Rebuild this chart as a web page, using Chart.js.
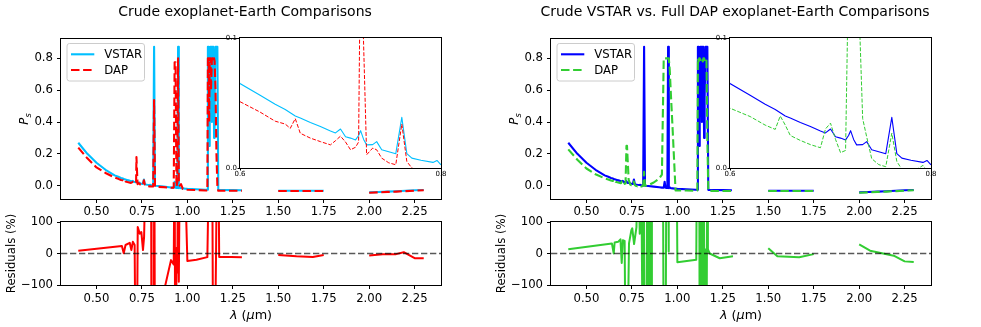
<!DOCTYPE html>
<html><head><meta charset="utf-8">
<script src="https://cdn.jsdelivr.net/npm/chart.js@4.4.1/dist/chart.umd.min.js"></script>
<style>
html,body{margin:0;padding:0;background:#fff;}
#wrap{position:relative;width:981px;height:327px;overflow:hidden;background:#fff;}
canvas{position:absolute;}
</style></head><body><div id="wrap"></div>
<script>
// ---------------- data ----------------
const wl = [
 0.40,0.45,0.50,0.55,0.60,0.62,0.635,0.645,0.650,0.655,
 0.660,0.670,0.680,0.690,0.695,0.700,0.705,0.710,0.715,0.718,
 0.720,0.723,0.726,0.732,0.736,0.741,0.748,0.755,0.761,0.766,
 0.771,0.780,0.792,0.796,0.800,0.805,0.812,0.817,0.822,0.840,
 0.870,0.900,0.915,0.925,0.930,0.935,0.940,0.945,0.949,0.953,
 0.958,0.965,0.975,0.990,1.000,1.050,1.100,1.110,1.113,1.117,
 1.120,1.123,1.127,1.130,1.135,1.140,1.143,1.147,1.150,1.155,
 1.160,1.165,1.170,1.200,1.250,1.300,1.400,1.50,1.55,1.60,
 1.65,1.70,1.75,1.90,2.00,2.05,2.10,2.15,2.20,2.25,
 2.30];
const vstar = [
 0.270,0.200,0.144,0.100,0.065,0.056,0.049,0.045,0.0425,0.040,
 0.0385,0.035,0.032,0.0285,0.027,0.030,0.024,0.023,0.0216,0.025,
 0.0287,0.022,0.0178,0.018,0.0203,0.014,0.0125,0.011,0.039,0.011,
 0.0076,0.006,0.0043,0.0058,0.0025,0.002,0.001,0.873,0.000,-0.002,
 -0.006,-0.010,-0.012,-0.012,0.025,-0.013,-0.014,-0.014,0.873,-0.015,
 -0.010,-0.016,-0.017,-0.019,-0.020,-0.022,-0.025,-0.025,0.873,0.873,
 0.25,0.60,0.873,0.873,0.40,0.873,0.873,0.30,0.55,0.873,
 0.873,0.873,-0.026,-0.027,-0.028,-0.029,null,-0.032,-0.032,-0.032,
 -0.032,-0.032,-0.032,null,-0.042,-0.040,-0.037,-0.035,-0.032,-0.029,
 -0.027];
const dapCrude = [
 0.239,0.172,0.115,0.080,0.051,0.043,0.036,0.0338,0.0305,0.038,
 0.0267,0.023,0.0203,0.0178,0.021,0.0245,0.020,0.014,0.016,0.020,
 0.180,0.095,0.0102,0.0153,0.014,0.0076,0.004,0.0025,0.0338,0.005,
 0.000,-0.003,-0.004,-0.004,-0.005,-0.005,-0.005,0.538,-0.005,-0.007,
 -0.009,-0.012,-0.013,-0.012,0.775,0.775,-0.005,0.020,0.800,0.020,
 0.000,0.010,-0.020,-0.024,-0.025,-0.027,-0.030,-0.030,0.800,0.800,
 0.40,0.800,0.800,0.60,0.800,0.800,0.780,0.800,0.780,0.600,
 0.200,0.000,-0.032,-0.032,-0.032,-0.032,null,-0.033,-0.033,-0.033,
 -0.033,-0.033,-0.033,null,-0.044,-0.042,-0.039,-0.037,-0.034,-0.031,
 -0.029];
const dapFull = [
 0.228,0.163,0.108,0.072,0.046,0.0396,0.033,0.0297,0.040,0.033,
 0.025,0.0212,0.018,0.0156,0.030,0.0345,0.022,0.0118,0.0135,0.155,
 0.250,0.250,0.179,0.038,0.024,0.0072,0.0026,0.001,0.0268,0.005,
 -0.001,-0.004,0.002,-0.002,-0.004,-0.004,0.000,0.088,0.000,0.003,
 0.020,0.045,0.070,0.800,0.800,0.800,0.800,0.800,0.800,0.800,
 0.730,0.560,0.330,-0.030,-0.030,-0.030,-0.032,-0.030,0.800,0.780,
 0.800,0.800,0.790,0.800,0.800,0.780,0.800,0.800,0.790,0.800,
 0.800,0.300,-0.032,-0.033,-0.033,-0.033,null,-0.033,-0.033,-0.033,
 -0.033,-0.033,-0.033,null,-0.044,-0.042,-0.039,-0.037,-0.034,-0.031,
 -0.029];
const resWlCrude = [0.40,0.64,0.65,0.66,0.683,0.692,0.70,0.71,0.716,0.722,
 0.727,0.738,0.747,0.756,0.762,0.775,0.80,0.803,0.815,0.818,
 0.822,0.87,0.875,0.91,0.925,0.93,0.933,0.942,0.945,0.949,
 0.953,0.96,0.98,1.00,1.05,1.11,1.122,1.136,1.142,1.15,
 1.158,1.164,1.17,1.175,1.24,1.30,1.40,1.50,1.60,1.69,
 1.75,1.90,2.00,2.075,2.148,2.19,2.25,2.30];
const resCrude = [9,24,1,27,34,11,37,27,-400,-400,
 84,63,68,11,53,400,400,-400,-400,400,
 -400,-400,-110,-21,-35,400,-400,18,-60,400,
 -90,400,400,-24,-20,-11.5,400,400,-400,-400,
 12,400,400,-11,-11,-12,null,-5,-9,-11,
 -5,null,-6,-2,-2,4,-15,-15];
const resWlFull = [0.40,0.64,0.65,0.655,0.674,0.687,0.694,0.70,0.71,0.716,
 0.724,0.734,0.747,0.752,0.762,0.775,0.784,0.793,0.80,0.81,
 0.815,0.82,0.83,0.835,0.84,0.848,0.855,0.86,0.92,0.925,
 0.935,0.94,0.951,0.952,0.953,0.995,1.00,1.104,1.108,1.12,
 1.123,1.128,1.132,1.136,1.14,1.145,1.15,1.155,1.16,1.165,
 1.168,1.178,1.233,1.306,1.40,1.50,1.55,1.67,1.75,1.90,
 2.00,2.06,2.19,2.25,2.30];
const resFull = [13.5,32,0,35,37,45,-30,42,40,-400,
 -400,32,74,80,30,84,400,63,400,-400,
 400,-400,-400,400,-400,400,-400,400,400,-400,
 -400,400,400,6,400,400,-28,-20,400,400,
 -400,400,-400,400,-400,400,-400,13,-400,400,
 13,0,-15,-9,null,17,-9,-12,-2,null,
 29,9,-7,-25,-27];
const xTicks = [0.50,0.75,1.00,1.25,1.50,1.75,2.00,2.25];
const yTicksMain = [0.0,0.2,0.4,0.6,0.8];
const yTicksRes = [-100,0,100];
const insetXTicks = [0.6,0.8];
const insetYTicks = [0.0,0.1];
const titles = ['Crude exoplanet-Earth Comparisons','Crude VSTAR vs. Full DAP exoplanet-Earth Comparisons'];
const seriesNames = ['VSTAR','DAP'];

// ---------------- helpers ----------------
const FONT = 'DejaVu Sans';
Chart.defaults.font.family = FONT;
Chart.defaults.color = '#000';
const XMIN = 0.305, XMAX = 2.395;
const wrap = document.getElementById('wrap');
function addCanvas(l,t,w,h){const c=document.createElement('canvas');c.width=w;c.height=h;
  c.style.left=l+'px';c.style.top=t+'px';c.style.width=w+'px';c.style.height=h+'px';wrap.appendChild(c);return c;}
function pts(xs,ys){return xs.map((x,i)=>({x:x,y:ys[i]}));}
function fmt(v,d){const s=Math.abs(v).toFixed(d);return v<0?'\u2212'+s:s;}
function fixedTicks(arr){return function(scale){scale.ticks=arr.map(v=>({value:v}));};}
function gridStyle(len){return {display:true,drawOnChartArea:false,drawTicks:true,tickLength:len,color:'#000',tickColor:'#000',lineWidth:1,tickWidth:1};}
const tickFont = {family:FONT,size:11.7};
const baseOpts = {responsive:false,animation:false,devicePixelRatio:1,events:[],
  elements:{point:{radius:0},line:{tension:0,fill:false,borderJoinStyle:'round',borderCapStyle:'butt'}}};

function framePlugin(fill){return {id:'frame',
  beforeDraw(chart){ if(!fill) return; const a=chart.chartArea,c=chart.ctx; c.save(); c.fillStyle=fill;
    c.fillRect(a.left,a.top,a.right-a.left,a.bottom-a.top); c.restore(); },
  afterDraw(chart){ const a=chart.chartArea,c=chart.ctx; c.save(); c.strokeStyle='#000'; c.lineWidth=1; c.setLineDash([]);
    c.strokeRect(a.left-0.5,a.top-0.5,a.right-a.left+1,a.bottom-a.top+1); c.restore(); }};}

function drawRich(ctx,parts,cx,cy,rot){
  ctx.save(); ctx.translate(cx,cy); if(rot) ctx.rotate(rot);
  let w=0; parts.forEach(p=>{ctx.font=p.font; p.w=ctx.measureText(p.t).width; w+=p.w;});
  let x=-w/2; ctx.textBaseline='alphabetic'; ctx.textAlign='left'; ctx.fillStyle='#000';
  parts.forEach(p=>{ctx.font=p.font; ctx.fillText(p.t,x,p.dy||0); x+=p.w;});
  ctx.restore();
}
function yLabelPlugin(){return {id:'ylab', afterDraw(chart){
  const a=chart.chartArea;
  drawRich(chart.ctx,[{t:'P',font:'italic 11.7px "DejaVu Sans"'},{t:'s',font:'italic 8.2px "DejaVu Sans"',dy:2.6}],
    28,(a.top+a.bottom)/2,-Math.PI/2);
}};}
function xLabelPlugin(){return {id:'xlab', afterDraw(chart){
  const a=chart.chartArea;
  drawRich(chart.ctx,[{t:'\u03bb',font:'italic 12.8px "DejaVu Sans"'},{t:' (',font:'12.8px "DejaVu Sans"'},
    {t:'\u03bc',font:'italic 12.8px "DejaVu Sans"'},{t:'m)',font:'12.8px "DejaVu Sans"'}],(a.left+a.right)/2,119,0);
}};}
function zeroLinePlugin(){return {id:'zero', afterDatasetsDraw(chart){
  const a=chart.chartArea,c=chart.ctx,y=chart.scales.y.getPixelForValue(0);
  c.save(); c.strokeStyle='rgba(0,0,0,0.65)'; c.lineWidth=1.7; c.setLineDash([6.3,2.7]);
  c.beginPath(); c.moveTo(a.left,y); c.lineTo(a.right,y); c.stroke(); c.restore();
}};}
function legendPlugin(){return {id:'mplLegend', afterDraw(chart){
  const a=chart.chartArea,c=chart.ctx;
  const x0=a.left+6, y0=a.top+4.5, w=77.5, h=37.5, r=2.5;
  c.save();
  c.beginPath(); c.moveTo(x0+r,y0); c.lineTo(x0+w-r,y0); c.quadraticCurveTo(x0+w,y0,x0+w,y0+r);
  c.lineTo(x0+w,y0+h-r); c.quadraticCurveTo(x0+w,y0+h,x0+w-r,y0+h); c.lineTo(x0+r,y0+h);
  c.quadraticCurveTo(x0,y0+h,x0,y0+h-r); c.lineTo(x0,y0+r); c.quadraticCurveTo(x0,y0,x0+r,y0); c.closePath();
  c.fillStyle='rgba(255,255,255,0.8)'; c.fill(); c.strokeStyle='#cccccc'; c.lineWidth=1; c.stroke();
  const ds=chart.data.datasets;
  ds.forEach((d,i)=>{
    const yy=y0+10.8+i*15.7;
    c.beginPath(); c.setLineDash(d.borderDash||[]); c.strokeStyle=d.borderColor; c.lineWidth=d.borderWidth;
    c.moveTo(x0+4,yy); c.lineTo(x0+27.3,yy); c.stroke();
    c.setLineDash([]); c.fillStyle='#000'; c.font='11.7px "DejaVu Sans"'; c.textBaseline='middle'; c.textAlign='left';
    c.fillText(d.label,x0+37.3,yy+0.5);
  });
  c.restore();
}};}

function mainChart(ox,title,vColor,dColor,dapArr){
  const cv=addCanvas(ox,0,490,232);
  return new Chart(cv,{type:'line',
    data:{datasets:[
      {label:seriesNames[0],data:pts(wl,vstar),borderColor:vColor,borderWidth:2.1,order:1},
      {label:seriesNames[1],data:pts(wl,dapArr),borderColor:dColor,borderWidth:2.1,borderDash:[8.5,3.6],order:0}]},
    options:Object.assign({},baseOpts,{
      layout:{padding:0},
      plugins:{legend:{display:false},tooltip:{enabled:false},
        title:{display:true,text:title,color:'#000',font:{family:FONT,size:14,weight:'normal',lineHeight:1.2},padding:{top:4,bottom:18.2}}},
      scales:{
        x:{type:'linear',min:XMIN,max:XMAX,afterBuildTicks:fixedTicks(xTicks),afterFit:s=>{s.height=33;},
          ticks:{font:tickFont,color:'#000',padding:2,autoSkip:false,maxRotation:0,callback:v=>fmt(v,2)},
          grid:gridStyle(4),border:{display:false}},
        y:{type:'linear',min:-0.0835,max:0.9215,afterBuildTicks:fixedTicks(yTicksMain),afterFit:s=>{s.width=61;},
          ticks:{font:tickFont,color:'#000',padding:4,autoSkip:false,callback:v=>fmt(v,1)},
          grid:gridStyle(4),border:{display:false}},
        yR:{type:'linear',position:'right',display:true,afterFit:s=>{s.width=49;},
          ticks:{display:false},grid:{display:false},border:{display:false}}
      }}),
    plugins:[framePlugin(null),yLabelPlugin(),legendPlugin()]});
}
function insetChart(ox,vColor,dColor,dapArr){
  const cv=addCanvas(ox+200,30,260,155);
  const f={family:FONT,size:7,lineHeight:1.0};
  return new Chart(cv,{type:'line',
    data:{datasets:[
      {label:seriesNames[0],data:pts(wl,vstar),borderColor:vColor,borderWidth:1.1,order:1},
      {label:seriesNames[1],data:pts(wl,dapArr),borderColor:dColor,borderWidth:1.0,borderDash:[4,1.7],order:0}]},
    options:Object.assign({},baseOpts,{
      layout:{padding:{top:8,right:19,left:0,bottom:0}},
      plugins:{legend:{display:false},tooltip:{enabled:false}},
      scales:{
        x:{type:'linear',min:0.6,max:0.8,afterBuildTicks:fixedTicks(insetXTicks),afterFit:s=>{s.height=17;},
          ticks:{font:f,color:'#000',padding:0.5,autoSkip:false,maxRotation:0,callback:v=>fmt(v,1)},
          grid:gridStyle(2.5),border:{display:false}},
        y:{type:'linear',min:0,max:0.1,afterBuildTicks:fixedTicks(insetYTicks),afterFit:s=>{s.width=40;},
          ticks:{font:f,color:'#000',padding:0.5,autoSkip:false,callback:v=>fmt(v,1)},
          grid:gridStyle(2.5),border:{display:false}}
      }}),
    plugins:[framePlugin('#ffffff')]});
}
function resChart(ox,xs,ys,color){
  const cv=addCanvas(ox,200,490,127);
  return new Chart(cv,{type:'line',
    data:{datasets:[{label:'Residuals',data:pts(xs,ys),borderColor:color,borderWidth:2}]},
    options:Object.assign({},baseOpts,{
      layout:{padding:{top:22,right:49,left:0,bottom:0}},
      plugins:{legend:{display:false},tooltip:{enabled:false}},
      scales:{
        x:{type:'linear',min:XMIN,max:XMAX,afterBuildTicks:fixedTicks(xTicks),afterFit:s=>{s.height=42;},
          ticks:{font:tickFont,color:'#000',padding:2.7,autoSkip:false,maxRotation:0,callback:v=>fmt(v,2)},
          grid:gridStyle(4),border:{display:false}},
        y:{type:'linear',min:-100,max:100,afterBuildTicks:fixedTicks(yTicksRes),afterFit:s=>{s.width=61;},
          ticks:{font:tickFont,color:'#000',padding:4,autoSkip:false,callback:v=>fmt(v,0)},
          grid:gridStyle(4),border:{display:false},
          title:{display:true,text:'Residuals (%)',color:'#000',font:{family:FONT,size:11.7},padding:{top:4.7,bottom:0}}}
      }}),
    plugins:[framePlugin(null),zeroLinePlugin(),xLabelPlugin()]});
}

mainChart(0,titles[0],'#00bfff','#ff0000',dapCrude);
insetChart(0,'#00bfff','#ff0000',dapCrude);
resChart(0,resWlCrude,resCrude,'#ff0000');
mainChart(490,titles[1],'#0000ff','#32cd32',dapFull);
insetChart(490,'#0000ff','#32cd32',dapFull);
resChart(490,resWlFull,resFull,'#32cd32');
</script></body></html>
